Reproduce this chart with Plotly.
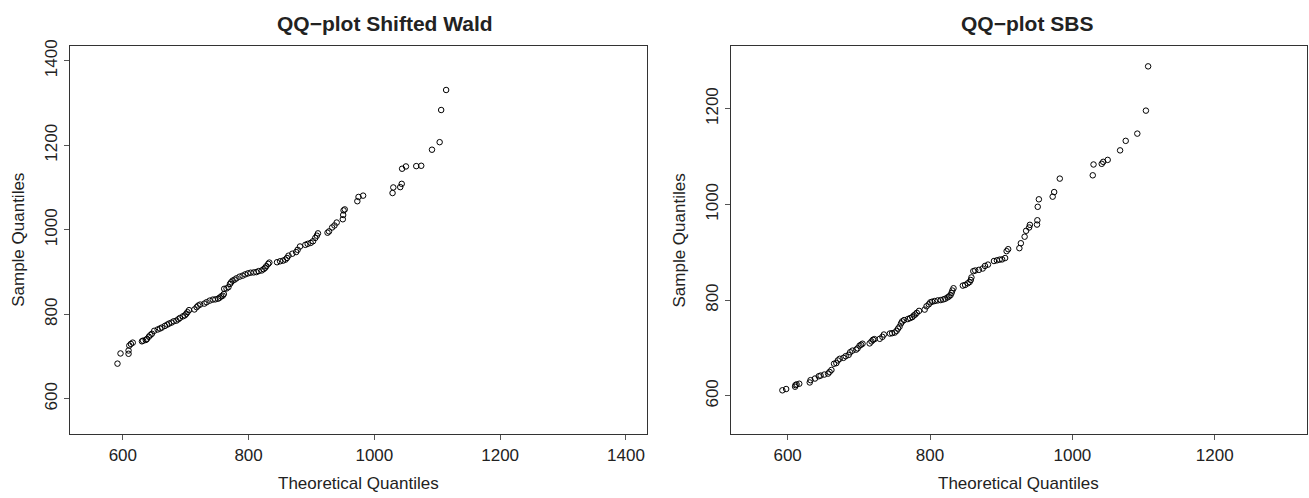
import plotly.graph_objects as go

# ---- Data: QQ-plot Shifted Wald (theoretical, sample) ----
wald_theo = [591.5, 596.3, 609.1, 609.1, 610.3, 612.8, 615.8, 630.4, 632.2, 636.5,
             638.3, 641.4, 643.8, 646.2, 649.9, 655.4, 659.0, 662.1, 666.9, 670.6,
             673.6, 677.3, 680.9, 685.2, 688.2, 690.7, 695.5, 698.6, 701.0, 702.8,
             705.3, 713.8, 717.4, 719.9, 722.9, 729.6, 733.2, 738.1, 743.0, 747.2,
             751.5, 753.9, 756.4, 758.8, 760.6, 761.2, 764.9, 767.9, 770.4, 772.2,
             774.6, 777.7, 780.7, 785.6, 790.4, 794.7, 798.9, 803.2, 808.1, 812.3,
             816.0, 820.9, 823.9, 826.3, 828.2, 831.2, 833.0, 845.2, 850.1, 854.9,
             858.6, 861.0, 863.4, 869.5, 875.6, 878.0, 881.7, 890.2, 893.9, 898.7,
             902.4, 906.0, 908.5, 910.3, 925.5, 927.9, 932.8, 936.5, 940.1, 949.8,
             950.4, 951.0, 952.9, 972.9, 974.8, 982.1, 1028.9, 1030.1, 1041.1, 1043.5,
             1044.1, 1050.2, 1066.6, 1074.5, 1091.6, 1103.8, 1106.2, 1114.1]
wald_sample = [683.1, 707.2, 706.4, 714.2, 725.8, 729.7, 732.8, 735.9, 737.5, 739.0,
               741.4, 746.8, 750.7, 753.8, 760.8, 763.9, 766.2, 768.5, 772.4, 775.5,
               777.9, 780.2, 783.3, 784.9, 788.0, 791.1, 795.0, 797.3, 801.2, 805.0,
               809.7, 811.3, 816.7, 820.6, 822.9, 825.2, 828.4, 832.2, 834.6, 835.3,
               836.9, 839.2, 842.3, 843.9, 847.8, 860.2, 861.0, 864.1, 871.8, 875.7,
               879.6, 881.9, 885.0, 888.9, 891.3, 894.4, 896.7, 898.3, 899.0, 899.8,
               902.1, 903.7, 906.8, 909.9, 913.8, 919.2, 922.3, 923.1, 925.4, 927.0,
               929.3, 933.2, 938.6, 943.3, 947.2, 952.6, 960.4, 964.3, 966.6, 968.9,
               972.8, 980.6, 986.0, 991.5, 993.0, 996.1, 1005.4, 1010.1, 1017.1, 1024.9,
               1035.0, 1045.8, 1048.2, 1067.6, 1077.7, 1080.8, 1087.0, 1100.2, 1101.0, 1108.7,
               1144.5, 1149.9, 1150.7, 1151.5, 1189.5, 1207.4, 1283.5, 1330.9]

# ---- Data: QQ-plot SBS (theoretical, sample) ----
sbs_theo = [592.6, 597.9, 610.5, 611.0, 612.6, 616.3, 631.0, 632.1, 638.4, 643.7,
            646.3, 651.5, 656.8, 658.9, 661.5, 665.2, 668.4, 670.5, 673.1, 678.4,
            681.5, 685.7, 687.8, 691.0, 696.2, 698.3, 701.0, 703.1, 705.2, 715.2,
            717.8, 719.9, 722.0, 729.4, 733.1, 735.2, 743.6, 746.7, 750.4, 753.0,
            755.1, 757.2, 759.3, 760.9, 763.6, 768.8, 772.0, 775.1, 777.2, 779.3,
            781.4, 784.6, 792.5, 795.1, 798.3, 800.4, 803.0, 806.7, 810.9, 815.1,
            818.8, 821.4, 824.6, 826.7, 828.8, 830.3, 831.4, 833.0, 846.1, 849.3,
            853.0, 855.6, 857.2, 858.2, 860.8, 863.5, 868.7, 874.0, 877.2, 881.4,
            889.8, 894.0, 897.7, 901.3, 905.5, 907.6, 909.8, 925.5, 927.6, 932.9,
            935.0, 939.2, 940.3, 950.3, 950.8, 951.3, 952.9, 972.3, 974.4, 982.3,
            1028.6, 1029.7, 1041.2, 1043.3, 1049.6, 1067.0, 1074.9, 1091.2, 1103.3, 1106.4]
sbs_sample = [611.7, 614.4, 619.2, 622.6, 624.0, 625.4, 628.1, 632.9, 636.3, 641.1,
              642.5, 644.6, 646.6, 650.1, 654.2, 667.2, 668.6, 674.1, 677.5, 679.5,
              683.0, 685.7, 691.2, 694.6, 696.7, 699.4, 704.9, 707.0, 709.0, 709.7,
              713.8, 717.3, 718.6, 719.3, 723.4, 728.2, 730.3, 731.0, 732.3, 735.8,
              740.6, 744.7, 751.5, 755.7, 758.4, 760.5, 762.5, 764.6, 768.0, 770.1,
              773.5, 777.6, 780.3, 787.2, 791.3, 795.4, 796.8, 798.2, 799.5, 800.2,
              801.6, 803.0, 805.7, 807.8, 810.5, 815.3, 820.1, 824.9, 830.4, 831.8,
              835.2, 837.9, 842.1, 847.5, 860.6, 861.9, 863.3, 866.1, 871.5, 874.3,
              881.8, 883.2, 884.6, 885.2, 888.0, 902.4, 906.5, 908.6, 918.9, 932.6,
              944.9, 951.8, 957.3, 957.9, 966.9, 995.0, 1010.7, 1016.2, 1025.8, 1053.9,
              1060.8, 1083.4, 1084.8, 1088.9, 1093.0, 1112.9, 1132.8, 1147.9, 1195.9, 1288.4]

left_ticks = [600, 800, 1000, 1200, 1400]
right_ticks = [600, 800, 1000, 1200]
titles = ["QQ\u2212plot Shifted Wald", "QQ\u2212plot SBS"]
xlab = "Theoretical Quantiles"
ylab = "Sample Quantiles"

W, H = 1309, 498
FONT = "Liberation Sans, Arial, Helvetica, sans-serif"

marker = dict(symbol="circle-open", size=5.5, color="black", line=dict(width=1, color="black"))

fig = go.Figure()
fig.add_trace(go.Scatter(x=wald_theo, y=wald_sample, mode="markers", marker=marker,
                         xaxis="x", yaxis="y", showlegend=False))
fig.add_trace(go.Scatter(x=sbs_theo, y=sbs_sample, mode="markers", marker=marker,
                         xaxis="x2", yaxis="y2", showlegend=False))

ydom = [(H - 433.3) / H, (H - 40) / H]
xdom1 = [70 / W, 647.3 / W]
xdom2 = [730.7 / W, 1307.3 / W]

def ax(domain, rng, ticks, anchor, rot=0):
    return dict(domain=domain, range=rng, tickvals=ticks, ticktext=[str(t) for t in ticks],
                showgrid=False, zeroline=False, showline=True, mirror=True,
                linecolor="#333333", linewidth=1, ticks="outside", ticklen=5,
                tickcolor="#555555", tickwidth=1, anchor=anchor, tickangle=rot,
                tickfont=dict(family=FONT, size=17, color="#222222"))

fig.update_layout(
    width=W, height=H, autosize=False,
    margin=dict(l=0, r=0, t=0, b=0),
    paper_bgcolor="white", plot_bgcolor="white",
    xaxis=ax(xdom1, [516, 1434], left_ticks, "y"),
    yaxis=ax(ydom, [516, 1434], left_ticks, "x", rot=-90),
    xaxis2=ax(xdom2, [520, 1330], right_ticks, "y2"),
    yaxis2=ax(ydom, [520, 1330], right_ticks, "x2", rot=-90),
)

title_cx = [385.4, 1026.9]

ann = []
for dom, t, tcx in [(xdom1, titles[0], title_cx[0]), (xdom2, titles[1], title_cx[1])]:
    cx = (dom[0] + dom[1]) / 2
    ann.append(dict(x=tcx / W, y=1 - 17 / H, xref="paper", yref="paper", text="<b>" + t + "</b>",
                    showarrow=False, xanchor="center", yanchor="middle",
                    font=dict(family=FONT, size=21, color="#222222")))
    ann.append(dict(x=cx, y=1 - 483 / H, xref="paper", yref="paper", text=xlab,
                    showarrow=False, xanchor="center", yanchor="middle",
                    font=dict(family=FONT, size=17, color="#222222")))
    ann.append(dict(x=(dom[0] * W - 51.5) / W, y=(ydom[0] + ydom[1]) / 2, xref="paper", yref="paper",
                    text=ylab, textangle=-90, showarrow=False, xanchor="center", yanchor="middle",
                    font=dict(family=FONT, size=17, color="#222222")))
fig.update_layout(annotations=ann)

fig.write_html("out.html")
